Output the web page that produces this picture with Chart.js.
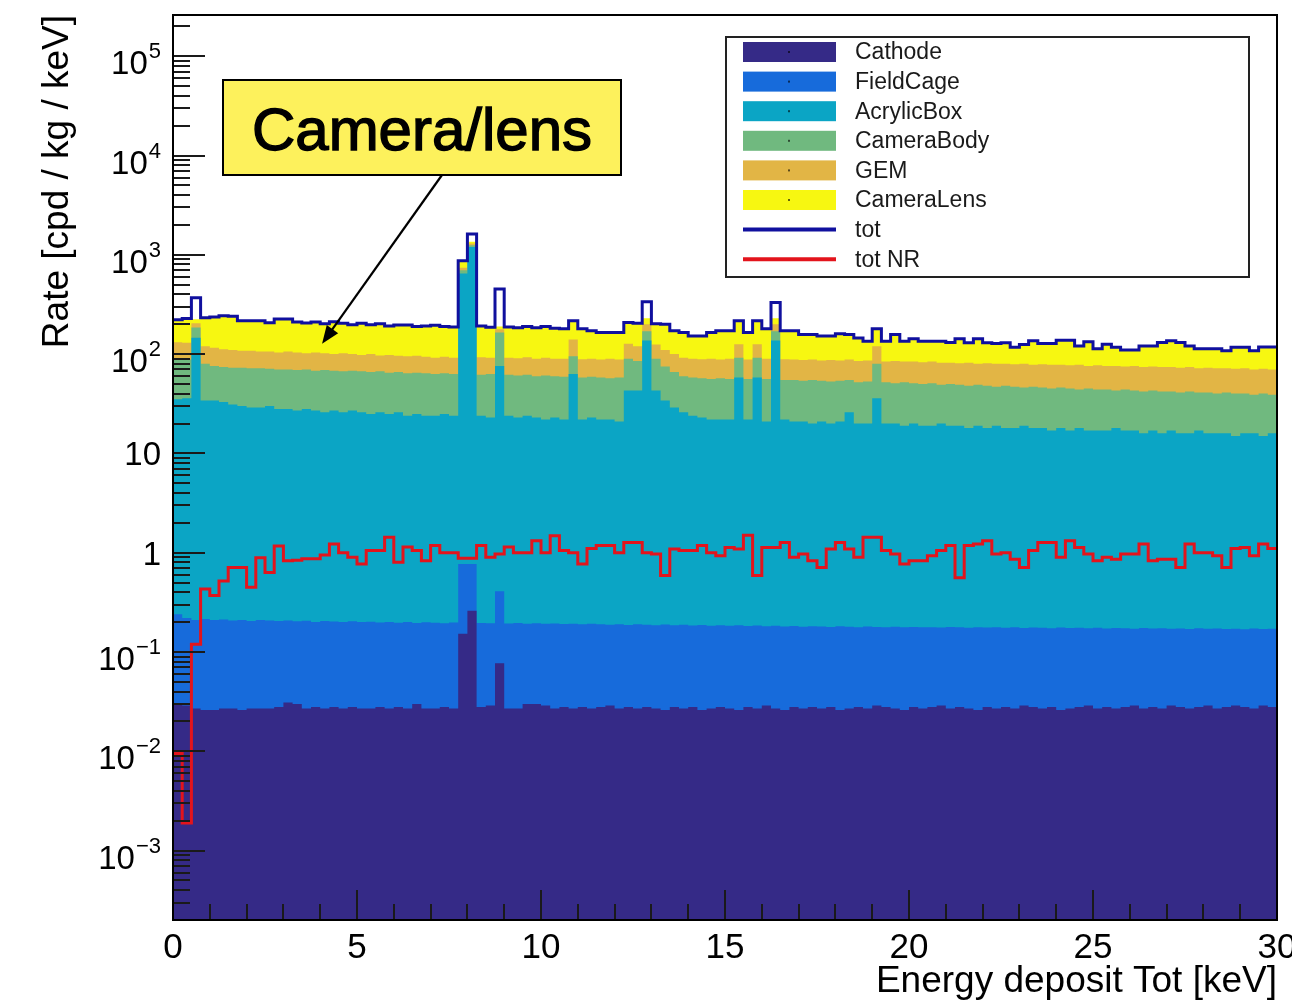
<!DOCTYPE html>
<html>
<head>
<meta charset="utf-8">
<title>Energy deposit spectrum</title>
<script src="https://cdn.jsdelivr.net/npm/chart.js@4.4.1/dist/chart.umd.min.js"></script>
<style>
  html, body { margin: 0; padding: 0; background: #fff; }
  #spectrum { display: block; }
</style>
</head>
<body>
<canvas id="spectrum" width="1292" height="1004"></canvas>
<script>
// histogram binning: 120 bins of 0.25 keV from 0 to 30 keV
const binWidth = 0.25;

// cumulative stack levels (top of each component), cpd/kg/keV
const cathode = [
  0.030, 0.029, 0.027, 0.026, 0.026, 0.027, 0.027, 0.026, 0.027, 0.027,
  0.027, 0.028, 0.031, 0.030, 0.027, 0.028, 0.027, 0.028, 0.027, 0.028,
  0.027, 0.027, 0.028, 0.027, 0.028, 0.027, 0.030, 0.027, 0.027, 0.028,
  0.027, 0.153, 0.260, 0.028, 0.029, 0.077, 0.027, 0.027, 0.030, 0.030,
  0.029, 0.027, 0.028, 0.027, 0.028, 0.027, 0.028, 0.029, 0.027, 0.028,
  0.027, 0.028, 0.027, 0.026, 0.028, 0.027, 0.028, 0.026, 0.027, 0.028,
  0.027, 0.026, 0.028, 0.027, 0.029, 0.027, 0.026, 0.028, 0.027, 0.028,
  0.027, 0.028, 0.026, 0.027, 0.028, 0.027, 0.029, 0.028, 0.027, 0.026,
  0.028, 0.027, 0.028, 0.029, 0.027, 0.028, 0.027, 0.026, 0.028, 0.027,
  0.028, 0.027, 0.029, 0.028, 0.027, 0.028, 0.026, 0.027, 0.028, 0.029,
  0.027, 0.028, 0.027, 0.028, 0.029, 0.027, 0.028, 0.027, 0.029, 0.028,
  0.027, 0.028, 0.029, 0.027, 0.028, 0.029, 0.028, 0.027, 0.029, 0.028
];
const fieldCage = [
  0.240, 0.220, 0.210, 0.215, 0.210, 0.212, 0.208, 0.210, 0.205, 0.210,
  0.207, 0.205, 0.208, 0.204, 0.206, 0.200, 0.205, 0.203, 0.200, 0.204,
  0.200, 0.202, 0.198, 0.200, 0.197, 0.200, 0.196, 0.199, 0.197, 0.195,
  0.198, 0.770, 0.770, 0.196, 0.195, 0.410, 0.194, 0.196, 0.193, 0.195,
  0.192, 0.194, 0.191, 0.193, 0.190, 0.192, 0.190, 0.188, 0.190, 0.187,
  0.190, 0.188, 0.186, 0.189, 0.186, 0.188, 0.185, 0.187, 0.184, 0.186,
  0.184, 0.186, 0.183, 0.185, 0.182, 0.184, 0.181, 0.183, 0.180, 0.182,
  0.181, 0.179, 0.182, 0.180, 0.178, 0.181, 0.179, 0.177, 0.180, 0.178,
  0.179, 0.177, 0.178, 0.176, 0.179, 0.177, 0.175, 0.178, 0.176, 0.177,
  0.175, 0.177, 0.174, 0.176, 0.175, 0.173, 0.176, 0.174, 0.175, 0.173,
  0.175, 0.172, 0.174, 0.173, 0.171, 0.174, 0.172, 0.173, 0.171, 0.172,
  0.170, 0.173, 0.171, 0.172, 0.170, 0.171, 0.169, 0.172, 0.170, 0.171
];
const acrylicBox = [
  35, 36, 146, 34, 34, 33, 31, 30, 29, 29,
  30, 28, 28, 27, 28, 27, 26, 27, 26, 27,
  26, 25, 26, 25, 26, 24, 25, 24, 24, 25,
  24, 650, 1200, 24, 23, 76, 24, 23, 24, 23,
  22, 23, 22, 63, 22, 23, 22, 22, 21, 43,
  43, 137, 43, 34, 29, 26, 24, 23, 22, 22,
  22, 58, 22, 58, 21, 137, 22, 21, 21, 20,
  21, 20, 21, 26, 20, 20, 36, 20, 20, 19,
  20, 19, 19, 20, 19, 19, 18, 19, 18, 19,
  18, 18, 19, 18, 18, 17, 18, 17, 18, 17,
  17, 17, 18, 17, 17, 16, 17, 16, 17, 16,
  16, 17, 16, 16, 16, 15, 16, 16, 15, 16
];
const cameraBody = [
  90, 88, 185, 80, 76, 74, 73, 73, 72, 72,
  71, 70, 70, 69, 70, 68, 69, 68, 67, 68,
  67, 66, 67, 65, 66, 64, 65, 64, 63, 64,
  63, 700, 1250, 62, 63, 165, 62, 61, 62, 60,
  61, 60, 59, 95, 58, 59, 58, 57, 58, 90,
  85, 170, 90, 75, 66, 60, 58, 57, 56, 57,
  56, 92, 56, 92, 56, 170, 55, 55, 54, 55,
  54, 53, 54, 55, 52, 53, 80, 52, 51, 52,
  51, 50, 51, 49, 50, 49, 48, 49, 48, 47,
  48, 47, 46, 47, 46, 45, 46, 45, 44, 45,
  44, 44, 43, 44, 43, 42, 43, 42, 42, 41,
  42, 41, 41, 40, 41, 40, 40, 39, 40, 39
];
const gem = [
  132, 130, 205, 120, 116, 112, 110, 108, 108, 106,
  106, 104, 106, 104, 102, 104, 102, 100, 102, 100,
  98, 100, 97, 98, 96, 95, 96, 94, 92, 94,
  92, 740, 1300, 93, 92, 178, 92, 91, 93, 90,
  92, 90, 90, 140, 89, 90, 88, 90, 88, 127,
  120, 200, 125, 110, 100, 92, 90, 89, 90, 88,
  90, 126, 88, 126, 90, 200, 89, 88, 87, 88,
  86, 87, 86, 88, 85, 86, 120, 84, 85, 84,
  84, 83, 84, 82, 82, 81, 82, 80, 81, 80,
  80, 79, 80, 78, 79, 78, 78, 77, 78, 76,
  77, 76, 76, 75, 76, 74, 75, 74, 74, 73,
  74, 72, 73, 72, 72, 71, 72, 70, 71, 70
];
const cameraLens = [
  222, 228, 225, 232, 236, 244, 240, 217, 217, 217,
  207, 226, 226, 210, 206, 210, 202, 212, 205, 198,
  204, 198, 202, 192, 196, 196, 190, 192, 195, 190,
  188, 860, 1350, 192, 186, 190, 188, 184, 190, 184,
  190, 182, 180, 217, 180, 172, 165, 165, 165, 208,
  205, 230, 202, 200, 172, 165, 152, 152, 165, 172,
  172, 217, 165, 217, 180, 230, 172, 172, 158, 158,
  152, 152, 160, 158, 145, 135, 180, 135, 158, 135,
  143, 135, 135, 135, 131, 143, 130, 143, 130, 128,
  130, 117, 125, 136, 128, 128, 138, 138, 121, 133,
  113, 126, 117, 110, 110, 121, 121, 131, 136, 131,
  121, 113, 113, 113, 108, 117, 117, 108, 118, 118
];

// summed spectra drawn as outlines
const tot = [
  222, 228, 370, 232, 236, 244, 240, 217, 217, 217,
  207, 226, 226, 210, 206, 210, 202, 212, 205, 198,
  204, 198, 202, 192, 196, 196, 190, 192, 195, 190,
  188, 872, 1620, 192, 186, 453, 188, 184, 190, 184,
  190, 182, 180, 217, 180, 172, 165, 165, 165, 208,
  205, 337, 202, 200, 172, 165, 152, 152, 165, 172,
  172, 217, 165, 217, 180, 330, 172, 172, 158, 158,
  152, 152, 160, 158, 145, 135, 180, 135, 158, 135,
  143, 135, 135, 135, 131, 143, 130, 143, 130, 128,
  130, 117, 125, 136, 128, 128, 138, 138, 121, 133,
  113, 126, 117, 110, 110, 121, 121, 131, 136, 131,
  121, 113, 113, 113, 108, 117, 117, 108, 118, 118
];
const totNR = [
  0.0095, 0.0019, 0.12, 0.43, 0.37, 0.52, 0.71, 0.71, 0.45, 0.89,
  0.63, 1.17, 0.83, 0.84, 0.87, 0.87, 0.95, 1.22, 1.00, 0.90,
  0.77, 1.05, 1.05, 1.43, 0.80, 1.14, 1.05, 0.83, 1.18, 1.00,
  1.00, 0.88, 0.88, 1.18, 0.90, 0.97, 1.14, 1.00, 1.00, 1.32,
  1.00, 1.48, 1.05, 1.00, 0.77, 1.10, 1.18, 1.18, 1.00, 1.27,
  1.27, 1.00, 0.97, 0.59, 1.09, 1.05, 1.05, 1.18, 1.00, 0.93,
  1.13, 1.09, 1.50, 0.59, 1.13, 1.13, 1.27, 0.90, 0.97, 0.83,
  0.71, 1.09, 1.27, 1.09, 0.90, 1.43, 1.43, 1.05, 0.97, 0.77,
  0.83, 0.83, 0.93, 1.05, 1.18, 0.56, 1.18, 1.22, 1.32, 0.97,
  1.00, 0.86, 0.71, 1.05, 1.27, 1.27, 0.90, 1.32, 1.13, 0.97,
  0.83, 0.90, 0.86, 0.97, 0.97, 1.22, 0.83, 0.86, 0.86, 0.71,
  1.22, 1.00, 1.00, 0.93, 0.71, 1.10, 1.13, 0.93, 1.22, 1.10
];

// axis ticks and labels
const xRange = [0, 30];
const yRange = [2e-4, 2.6e5];
const xMajorTicks = [0, 5, 10, 15, 20, 25, 30];
const xMinorStep = 1;
const yDecades = [-3, -2, -1, 0, 1, 2, 3, 4, 5];
const yTickLabels = [
  ['10', '\u22123'], ['10', '\u22122'], ['10', '\u22121'], ['1', ''], ['10', ''],
  ['10', '2'], ['10', '3'], ['10', '4'], ['10', '5']
];
const xTitle = 'Energy deposit Tot [keV]';
const yTitle = 'Rate [cpd / kg / keV]';
const calloutText = 'Camera/lens';
const calloutTarget = { x: 4.05, y: 127 };

const FONT = '"Liberation Sans", Arimo, Helvetica, Arial, sans-serif';

// histogram contents -> step points on bin edges
function steps(values) {
  const pts = values.map((v, i) => ({ x: i * binWidth, y: v }));
  pts.push({ x: values.length * binWidth, y: values[values.length - 1] });
  return pts;
}

function stackLayer(label, values, color, order) {
  return {
    label, data: steps(values), order,
    stepped: 'before', fill: 'start',
    backgroundColor: color, borderColor: 'rgba(0,0,0,0)', borderWidth: 0,
    pointRadius: 0, legendKind: 'fill'
  };
}

function outline(label, values, color, order) {
  return {
    label, data: steps(values), order,
    stepped: 'before', fill: false,
    borderColor: color, backgroundColor: color, borderWidth: 3,
    pointRadius: 0, legendKind: 'line'
  };
}

function line(ctx, x1, y1, x2, y2) {
  ctx.beginPath();
  ctx.moveTo(x1, y1);
  ctx.lineTo(x2, y2);
  ctx.stroke();
}

// ROOT-like frame, inward ticks, titles, legend and callout
const rootFrame = {
  id: 'rootFrame',
  afterDraw(chart) {
    const { ctx, chartArea: a, scales } = chart;
    const xs = scales.x;
    const ys = scales.y;
    ctx.save();

    // ticks
    ctx.strokeStyle = '#1a1a1a';
    ctx.lineWidth = 2;
    for (let d = -4; d <= 5; d++) {
      for (let m = 1; m <= 9; m++) {
        const v = m * Math.pow(10, d);
        if (v < ys.min || v > ys.max) continue;
        const py = Math.round(ys.getPixelForValue(v));
        line(ctx, a.left, py, a.left + (m === 1 ? 32 : 17), py);
      }
    }
    for (let v = xRange[0]; v <= xRange[1]; v += xMinorStep) {
      const px = Math.round(xs.getPixelForValue(v));
      const major = xMajorTicks.includes(v);
      line(ctx, px, a.bottom, px, a.bottom - (major ? 30 : 16));
    }

    // frame
    ctx.strokeStyle = '#000';
    ctx.lineWidth = 2;
    ctx.strokeRect(a.left, a.top, a.right - a.left, a.bottom - a.top);

    // x labels
    ctx.fillStyle = '#000';
    ctx.textBaseline = 'alphabetic';
    ctx.textAlign = 'center';
    ctx.font = '35px ' + FONT;
    xMajorTicks.forEach(v => ctx.fillText(String(v), xs.getPixelForValue(v), a.bottom + 38));

    // y labels with superscript exponents
    yDecades.forEach((d, i) => {
      const [base, exp] = yTickLabels[i];
      const py = ys.getPixelForValue(Math.pow(10, d));
      const right = a.left - 12;
      ctx.textAlign = 'right';
      if (exp) {
        ctx.font = '22px ' + FONT;
        const we = ctx.measureText(exp).width;
        ctx.fillText(exp, right, py + 2);
        ctx.font = '33px ' + FONT;
        ctx.fillText(base, right - we - 1, py + 18);
      } else {
        ctx.font = '33px ' + FONT;
        ctx.fillText(base, right, py + 12);
      }
    });

    // axis titles
    ctx.font = '37px ' + FONT;
    ctx.textAlign = 'right';
    ctx.fillText(xTitle, a.right, a.bottom + 72);
    ctx.save();
    ctx.translate(68, a.top);
    ctx.rotate(-Math.PI / 2);
    ctx.font = '37px ' + FONT;
    ctx.fillText(yTitle, 0, 0);
    ctx.restore();

    // legend
    const lg = { left: 726, top: 37, width: 523, height: 240 };
    ctx.fillStyle = '#fff';
    ctx.fillRect(lg.left, lg.top, lg.width, lg.height);
    ctx.strokeStyle = '#222';
    ctx.lineWidth = 2;
    ctx.strokeRect(lg.left, lg.top, lg.width, lg.height);
    ctx.font = '23px ' + FONT;
    ctx.textAlign = 'left';
    ctx.textBaseline = 'middle';
    chart.data.datasets.forEach((ds, i) => {
      const cy = lg.top + 15 + i * 29.6;
      if (ds.legendKind === 'fill') {
        ctx.fillStyle = ds.backgroundColor;
        ctx.fillRect(lg.left + 17, cy - 10, 93, 20);
        ctx.fillStyle = 'rgba(0,0,0,0.6)';
        ctx.fillRect(lg.left + 62, cy - 1, 2, 2);
      } else {
        ctx.strokeStyle = ds.borderColor;
        ctx.lineWidth = 4;
        line(ctx, lg.left + 17, cy, lg.left + 110, cy);
      }
      ctx.fillStyle = '#1a1a1a';
      ctx.fillText(ds.label, lg.left + 129, cy + 1);
    });

    // callout box with arrow
    const box = { left: 223, top: 80, width: 398, height: 95 };
    ctx.fillStyle = '#fdf15c';
    ctx.fillRect(box.left, box.top, box.width, box.height);
    ctx.strokeStyle = '#000';
    ctx.lineWidth = 2;
    ctx.strokeRect(box.left, box.top, box.width, box.height);
    ctx.fillStyle = '#000';
    ctx.font = '60px ' + FONT;
    ctx.textAlign = 'center';
    ctx.textBaseline = 'alphabetic';
    ctx.lineWidth = 1.4;
    ctx.fillText(calloutText, box.left + box.width / 2, box.top + 70);
    ctx.strokeText(calloutText, box.left + box.width / 2, box.top + 70);

    const sx = 442, sy = box.top + box.height;
    const tx = xs.getPixelForValue(calloutTarget.x);
    const ty = ys.getPixelForValue(calloutTarget.y);
    const ang = Math.atan2(ty - sy, tx - sx);
    ctx.lineWidth = 2.2;
    line(ctx, sx, sy, tx - 10 * Math.cos(ang), ty - 10 * Math.sin(ang));
    ctx.beginPath();
    ctx.moveTo(tx, ty);
    ctx.lineTo(tx - 18 * Math.cos(ang) + 7 * Math.sin(ang), ty - 18 * Math.sin(ang) - 7 * Math.cos(ang));
    ctx.lineTo(tx - 18 * Math.cos(ang) - 7 * Math.sin(ang), ty - 18 * Math.sin(ang) + 7 * Math.cos(ang));
    ctx.closePath();
    ctx.fill();

    ctx.restore();
  }
};

new Chart(document.getElementById('spectrum'), {
  type: 'line',
  data: {
    datasets: [
      stackLayer('Cathode', cathode, '#352a87', 2),
      stackLayer('FieldCage', fieldCage, '#176bdb', 3),
      stackLayer('AcrylicBox', acrylicBox, '#0ba5c5', 4),
      stackLayer('CameraBody', cameraBody, '#70b97f', 5),
      stackLayer('GEM', gem, '#e2b545', 6),
      stackLayer('CameraLens', cameraLens, '#f7f711', 7),
      outline('tot', tot, '#10109e', 1),
      outline('tot NR', totNR, '#e3141c', 0)
    ]
  },
  options: {
    responsive: false,
    animation: false,
    devicePixelRatio: 1,
    layout: { padding: { left: 0, top: 15, right: 15, bottom: 0 } },
    scales: {
      x: {
        type: 'linear', min: xRange[0], max: xRange[1],
        grid: { display: false }, border: { display: false }, ticks: { display: false },
        afterFit(scale) { scale.height = 84; }
      },
      y: {
        type: 'logarithmic', min: yRange[0], max: yRange[1],
        grid: { display: false }, border: { display: false }, ticks: { display: false },
        afterFit(scale) { scale.width = 173; }
      }
    },
    plugins: {
      legend: { display: false },
      tooltip: { enabled: false }
    }
  },
  plugins: [rootFrame]
});
</script>
</body>
</html>
